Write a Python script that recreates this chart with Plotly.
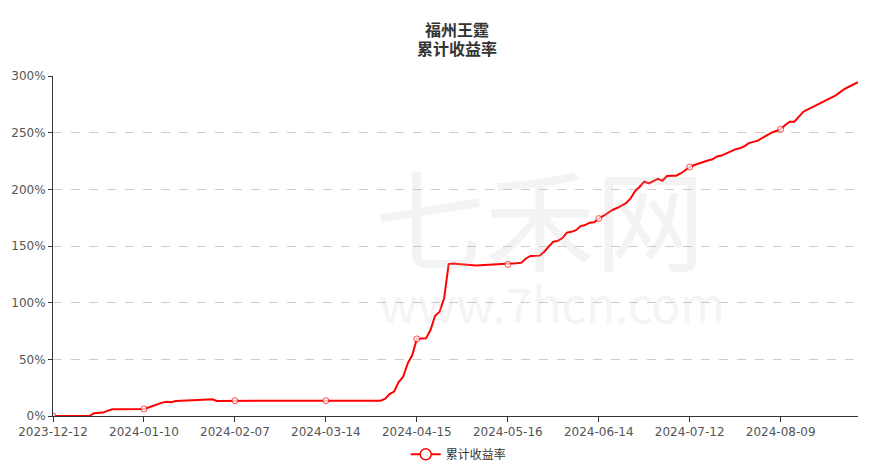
import pandas as pd
import plotly.graph_objects as go

start_date = "2023-12-12"
holidays = ["2024-01-01", "2024-02-09", "2024-02-12", "2024-02-13", "2024-02-14",
            "2024-02-15", "2024-02-16", "2024-04-04", "2024-04-05", "2024-05-01",
            "2024-05-02", "2024-05-03", "2024-06-10"]

returns = [
    0, 0, 0, 0, 0, 0, 0, 0, 0, 2.4,
    3, 3, 4.5, 6, 6, 6, 6, 6, 6, 6,
    6.2, 7.5, 9, 10.5, 11.8, 12.5, 12.2, 13.2, 13.3, 13.4,
    13.5, 13.8, 14.1, 14.4, 14.6, 14.7, 13.2, 13.3, 13.4, 13.5,
    13.5, 13.5, 13.5, 13.5, 13.5, 13.5, 13.5, 13.5, 13.5, 13.5,
    13.5, 13.5, 13.5, 13.5, 13.5, 13.5, 13.5, 13.5, 13.5, 13.5,
    13.5, 13.5, 13.5, 13.5, 13.5, 13.5, 13.5, 13.5, 13.5, 13.5,
    13.5, 13.5, 13.5, 15, 19.4, 21.5, 30, 34.7, 46.5, 53.8,
    68, 68.3, 68.5, 75.9, 88.2, 92, 103.8, 134, 134.5, 134.2,
    133.8, 133.5, 133, 132.8, 133, 133.2, 133.4, 133.5, 133.6, 133.7,
    133.8, 134.3, 134.8, 135.3, 139, 141.2, 141.5, 141.5, 145, 149,
    153.8, 154.5, 157, 161.8, 162.5, 164, 167.6, 168.5, 170.6, 170.9,
    174.2, 176.5, 179, 181.8, 183.5, 185.5, 187.8, 192, 198.5, 202.3,
    206.8, 205.3, 207.2, 209.3, 207.6, 211.8, 212, 212, 214, 217,
    219.7, 221.5, 223, 224.4, 225.5, 226.5, 229, 229.8, 231.5, 233.5,
    235.3, 236.2, 238, 240.8, 242, 243, 245.5, 248, 250, 251.5,
    253, 256.8, 259.7, 259.7, 264.5, 268.5, 270.5, 272.5, 274.4, 276.3,
    278.5, 280.5, 282.6, 285.5, 288.5, 290.5, 292.5, 294.5,
]

days = pd.bdate_range(start_date, "2024-12-31")
all_dates = [d.strftime("%Y-%m-%d") for d in days if d.strftime("%Y-%m-%d") not in holidays]
dates = all_dates[:len(returns)]
n = len(dates)
tick_dates = dates[::20]
marker_sizes = [6 if i % 20 == 0 else 0 for i in range(n)]

FONT = "Noto Sans CJK SC, Microsoft YaHei, sans-serif"
TICKFONT = "DejaVu Sans, Verdana, sans-serif"
WM = "rgba(190,190,190,0.18)"

fig = go.Figure()
fig.add_trace(go.Scatter(
    x=dates, y=returns, name="累计收益率", mode="lines+markers", showlegend=False,
    line=dict(color="#ff0000", width=2),
    marker=dict(size=marker_sizes, color="#ffffff", line=dict(color="#ff0000", width=1), symbol="circle"),
))
fig.add_trace(go.Scatter(
    x=[None], y=[None], name="累计收益率", mode="lines+markers", showlegend=True,
    line=dict(color="#ff0000", width=2),
    marker=dict(size=11, color="#ffffff", line=dict(color="#ff0000", width=1.5), symbol="circle"),
))

fig.add_annotation(text="七禾网", x=0.605, y=0.59, xref="paper", yref="paper",
                   showarrow=False, font=dict(size=110, color=WM, family=FONT))
fig.add_annotation(text="www.7hcn.com", x=0.62, y=0.335, xref="paper", yref="paper",
                   showarrow=False, font=dict(size=48, color=WM, family=FONT))

fig.add_annotation(text="<b>福州王霆</b>", x=0.502, y=1.139, xref="paper", yref="paper",
                   xanchor="center", yanchor="middle", showarrow=False,
                   font=dict(size=16, color="#333333", family=FONT))
fig.add_annotation(text="<b>累计收益率</b>", x=0.502, y=1.083, xref="paper", yref="paper",
                   xanchor="center", yanchor="middle", showarrow=False,
                   font=dict(size=16, color="#333333", family=FONT))

fig.update_layout(
    width=861, height=457,
    margin=dict(l=45, r=11, t=68, b=49, autoexpand=False),
    paper_bgcolor="#ffffff", plot_bgcolor="#ffffff",
    font=dict(family=FONT, size=12, color="#555555"),
    showlegend=True,
    legend=dict(orientation="h", x=0.504, xanchor="center", y=-0.07, yanchor="top",
                font=dict(size=12, color="#333333")),
    xaxis=dict(type="category", range=[0, n - 1], tickmode="array", tickvals=tick_dates,
               ticktext=tick_dates, showgrid=False, showline=True, linecolor="#333333",
               linewidth=1, ticks="outside", ticklen=5, tickcolor="#333333", automargin=False,
               tickfont=dict(size=12, color="#555555", family=TICKFONT), tickangle=0),
    yaxis=dict(range=[0, 300], dtick=50, ticksuffix="%", showgrid=True, gridcolor="#cccccc",
               griddash="dash", gridwidth=1, showline=True, linecolor="#333333", linewidth=1,
               ticks="outside", ticklen=4, tickcolor="#333333", zeroline=False, automargin=False,
               tickfont=dict(size=12, color="#555555", family=TICKFONT)),
)

fig.write_html("out.html")
